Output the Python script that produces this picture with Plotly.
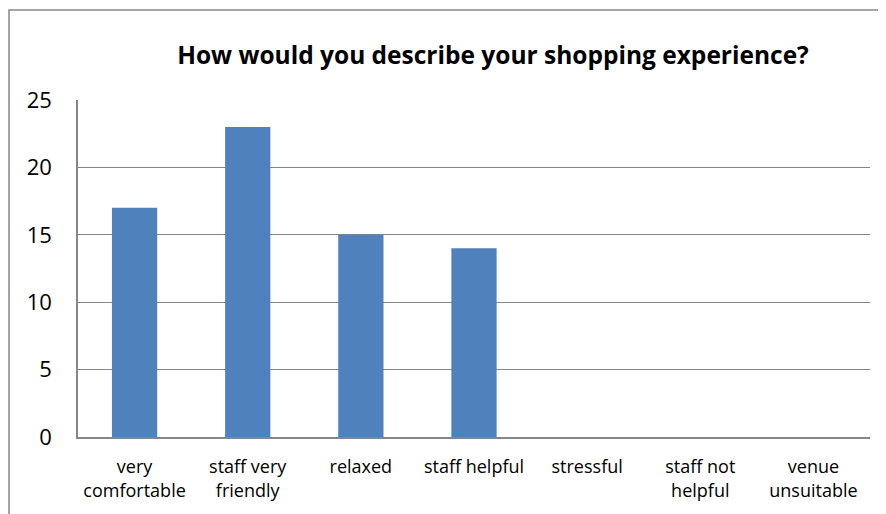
import plotly.graph_objects as go

categories = ["very<br>comfortable", "staff very<br>friendly", "relaxed", "staff helpful",
              "stressful", "staff not<br>helpful", "venue<br>unsuitable"]
values = [17, 23, 15, 14, 0, 0, 0]
y_ticks = [0, 5, 10, 15, 20, 25]

W, H = 886, 514
OFF = 8  # page body margin
# target plot area in screenshot pixels: x 78..870, y 100..437
L = 78 - OFF
T = 100 - OFF
R = W - (870 - OFF)
B = H - (437 - OFF)
pw, ph = W - L - R, H - T - B

def px_x(x):
    return (x - OFF - L) / pw

def px_y(y):
    return (H - B - (y - OFF)) / ph

fig = go.Figure(go.Bar(
    x=categories, y=values,
    marker=dict(color="#4F81BD", line=dict(width=0)),
))

fig.update_layout(
    width=W, height=H,
    margin=dict(l=L, r=R, t=T, b=B),
    plot_bgcolor="white", paper_bgcolor="white",
    bargap=0.6,
    showlegend=False,
    font=dict(family="'Open Sans', sans-serif", color="#000000"),
    title=dict(text="<b>How would you describe your shopping experience?</b>",
               x=(493 - OFF) / W, y=1 - (55 - OFF) / H, xanchor="center", yanchor="middle",
               font=dict(size=24.5, color="#000000")),
    shapes=[dict(type="rect", xref="paper", yref="paper",
                 x0=px_x(9), y0=px_y(700), x1=px_x(1200), y1=px_y(10),
                 line=dict(color="#868686", width=1.5), fillcolor="rgba(0,0,0,0)",
                 layer="below")],
)

fig.update_xaxes(
    showline=True, linecolor="#868686", linewidth=1.5,
    ticks="outside", ticklen=13, tickcolor="rgba(0,0,0,0)",
    tickfont=dict(size=18), showgrid=False,
)
fig.update_yaxes(
    range=[0, 25], tickvals=y_ticks,
    showline=True, linecolor="#868686", linewidth=1.5,
    showgrid=True, gridcolor="#868686", gridwidth=1,
    ticks="outside", ticklen=20, tickcolor="rgba(0,0,0,0)",
    tickfont=dict(size=22), zeroline=False,
)

fig.write_html("out.html")
